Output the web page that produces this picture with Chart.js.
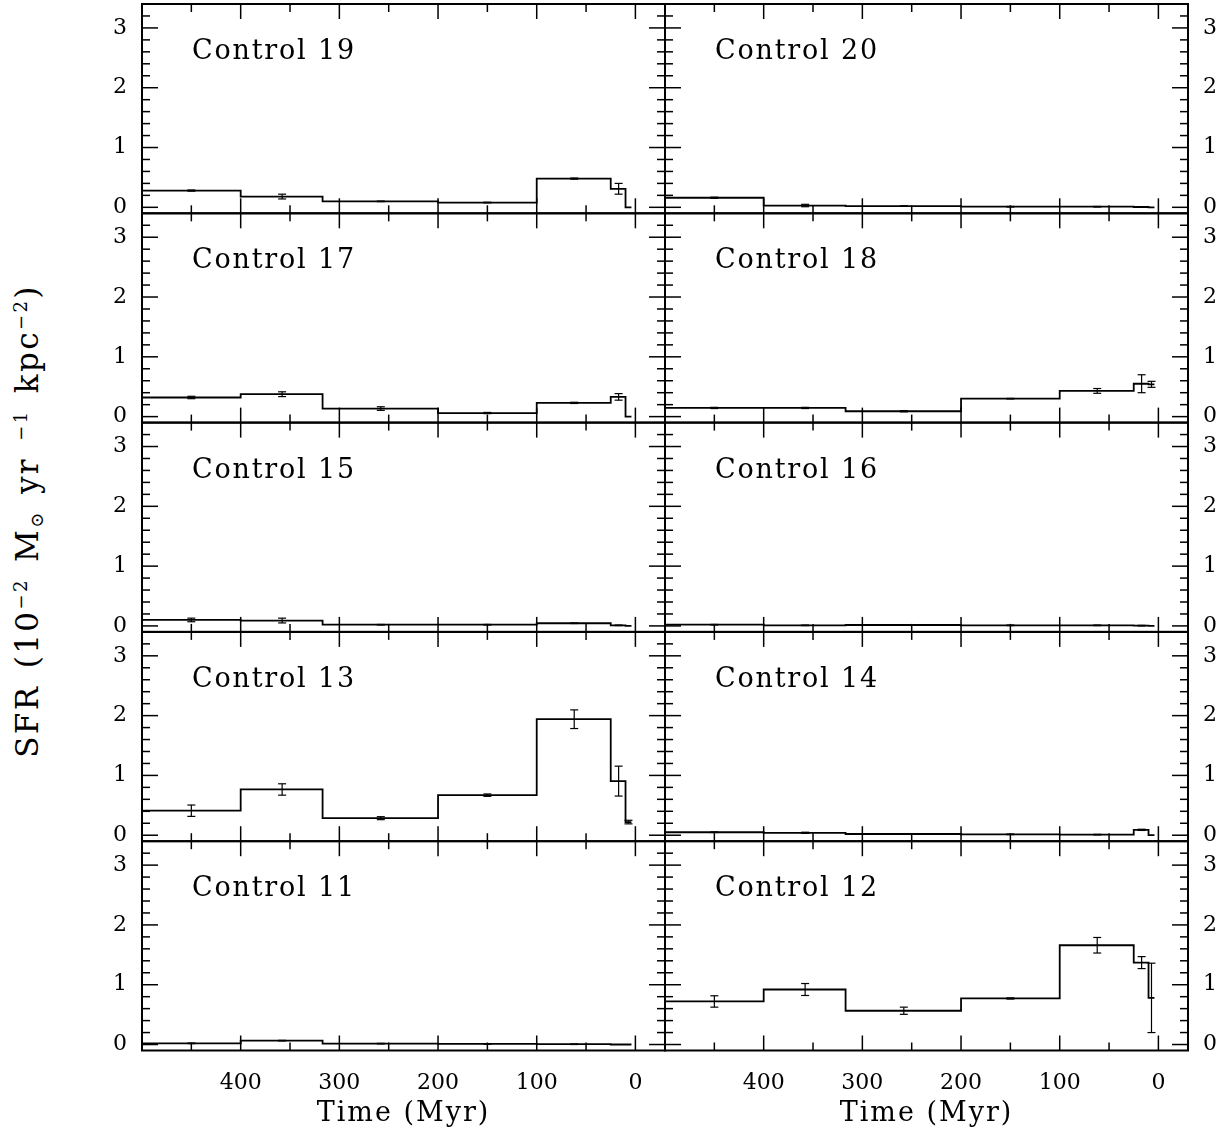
<!DOCTYPE html>
<html>
<head>
<meta charset="utf-8">
<script src="https://cdn.jsdelivr.net/npm/chart.js@4.4.1/dist/chart.umd.min.js"></script>
<style>
  body { margin: 0; background: #fff; }
  #page { position: relative; width: 1225px; height: 1134px; overflow: hidden; }
  #page canvas { position: absolute; left: 0; top: 0; }
  #ytitle {
    position: absolute; left: 27px; top: 521px;
    transform: translate(-50%, -50%) rotate(-90deg);
    white-space: nowrap; font: 31px "DejaVu Serif"; letter-spacing: 2.4px; word-spacing: 4px; line-height: 1; color: #000;
  }
  #ytitle sup { font-size: 58%; vertical-align: 0.6em; line-height: 0; }
  #ytitle sub { font-size: 58%; vertical-align: -0.3em; line-height: 0; }
</style>
</head>
<body>
<div id="page">
  <div id="ytitle">SFR (10<sup>−2</sup> M<sub>⊙</sub> yr <sup>−1</sup> kpc<sup>−2</sup>)</div>
</div>
<script>
// bins in Myr (lookback time), edges and centres
const binEdges = [500, 400, 317, 200, 100, 25, 10, 4];
const binCenters = [450, 358, 258, 150, 62, 17, 7];

const xMajorTicks = [400, 300, 200, 100, 0];
const xMinorTicks = [450, 350, 250, 150, 50];
const xTickLabels = ['400', '300', '200', '100', '0'];
const yMajorTicks = [0, 1, 2, 3];
const yMinorTicks = [0.2, 0.4, 0.6, 0.8, 1.2, 1.4, 1.6, 1.8, 2.2, 2.4, 2.6, 2.8, 3.2];
const yTickLabels = ['0', '1', '2', '3'];

const panelNames = ['Control 19', 'Control 20', 'Control 17', 'Control 18', 'Control 15',
                    'Control 16', 'Control 13', 'Control 14', 'Control 11', 'Control 12'];

// SFR per bin and its error (10^-2 Msun/yr/kpc^2)
const sfr19 = [0.28, 0.18, 0.10, 0.08, 0.48, 0.31, 0.0];
const err19 = [0.01, 0.04, 0.005, 0.005, 0.01, 0.09, 0.0];
const sfr20 = [0.16, 0.03, 0.02, 0.01, 0.01, 0.005, 0.0];
const err20 = [0.01, 0.02, 0.005, 0.005, 0.005, 0.005, 0.0];
const sfr17 = [0.32, 0.375, 0.135, 0.06, 0.23, 0.33, 0.0];
const err17 = [0.02, 0.04, 0.03, 0.01, 0.01, 0.055, 0.0];
const sfr18 = [0.145, 0.145, 0.09, 0.30, 0.43, 0.55, 0.54];
const err18 = [0.01, 0.01, 0.01, 0.005, 0.04, 0.15, 0.05];
const sfr15 = [0.10, 0.09, 0.02, 0.02, 0.045, 0.01, 0.0];
const err15 = [0.03, 0.04, 0.005, 0.005, 0.005, 0.005, 0.0];
const sfr16 = [0.02, 0.01, 0.015, 0.01, 0.01, 0.005, 0.0];
const err16 = [0.005, 0.005, 0.005, 0.005, 0.005, 0.005, 0.0];
const sfr13 = [0.41, 0.765, 0.285, 0.67, 1.94, 0.905, 0.22];
const err13 = [0.095, 0.095, 0.025, 0.02, 0.156, 0.25, 0.03];
const sfr14 = [0.05, 0.04, 0.02, 0.015, 0.01, 0.09, 0.0];
const err14 = [0.005, 0.01, 0.005, 0.005, 0.005, 0.01, 0.0];
const sfr11 = [0.02, 0.065, 0.015, 0.01, 0.005, 0.0, 0.0];
const err11 = [0.005, 0.005, 0.005, 0.005, 0.005, 0.0, 0.0];
const sfr12 = [0.72, 0.92, 0.565, 0.77, 1.66, 1.37, 0.78];
const err12 = [0.095, 0.10, 0.06, 0.01, 0.13, 0.10, 0.58];

const panelSfr = [sfr19, sfr20, sfr17, sfr18, sfr15, sfr16, sfr13, sfr14, sfr11, sfr12];
const panelErr = [err19, err20, err17, err18, err15, err16, err13, err14, err11, err12];

// page layout
const PAGE_W = 1225, PAGE_H = 1134;
const colLeft = [142, 665];
const plotW = 523;
const top0 = 4, plotH = 209.3;
const FONT = '"DejaVu Serif", serif';

function seg(ctx, x1, y1, x2, y2) {
  ctx.beginPath(); ctx.moveTo(x1, y1); ctx.lineTo(x2, y2); ctx.stroke();
}

const panelDecor = {
  id: 'panelDecor',
  afterDatasetsDraw(chart, args, opts) {
    const { ctx, chartArea: a } = chart;
    const x = chart.scales.x, y = chart.scales.y;
    const sfr = panelSfr[opts.idx], err = panelErr[opts.idx];
    ctx.save();
    ctx.strokeStyle = '#000';
    ctx.fillStyle = '#000';

    // error bars at bin centres
    ctx.lineWidth = 1.2;
    binCenters.forEach((c, i) => {
      if (err[i] <= 0) return;
      const px = x.getPixelForValue(c);
      const lo = y.getPixelForValue(sfr[i] - err[i]);
      const hi = y.getPixelForValue(sfr[i] + err[i]);
      seg(ctx, px, lo, px, hi);
      seg(ctx, px - 4, lo, px + 4, lo);
      seg(ctx, px - 4, hi, px + 4, hi);
    });

    // ticks on all four sides, pointing inwards
    ctx.lineWidth = 1.5;
    xMajorTicks.forEach(v => {
      const px = x.getPixelForValue(v);
      seg(ctx, px, a.bottom, px, a.bottom - 15);
      seg(ctx, px, a.top, px, a.top + 15);
    });
    xMinorTicks.forEach(v => {
      const px = x.getPixelForValue(v);
      seg(ctx, px, a.bottom, px, a.bottom - 8);
      seg(ctx, px, a.top, px, a.top + 8);
    });
    yMajorTicks.forEach(v => {
      const py = y.getPixelForValue(v);
      seg(ctx, a.left, py, a.left + 16, py);
      seg(ctx, a.right, py, a.right - 16, py);
    });
    yMinorTicks.forEach(v => {
      const py = y.getPixelForValue(v);
      seg(ctx, a.left, py, a.left + 8, py);
      seg(ctx, a.right, py, a.right - 8, py);
    });

    // frame
    ctx.lineWidth = 2;
    ctx.strokeRect(a.left, a.top, a.right - a.left, a.bottom - a.top);

    // y tick labels on the outer side
    ctx.font = '22px ' + FONT;
    ctx.textBaseline = 'middle';
    yMajorTicks.forEach((v, i) => {
      const py = y.getPixelForValue(v);
      if (opts.col === 0) {
        ctx.textAlign = 'right';
        ctx.fillText(yTickLabels[i], a.left - 15, py);
      } else {
        ctx.textAlign = 'left';
        ctx.fillText(yTickLabels[i], a.right + 15, py);
      }
    });

    // x tick labels and axis title on the bottom row only
    if (opts.row === 4) {
      ctx.font = '22px ' + FONT;
      ctx.textAlign = 'center';
      ctx.textBaseline = 'alphabetic';
      xMajorTicks.forEach((v, i) => {
        ctx.fillText(xTickLabels[i], x.getPixelForValue(v), a.bottom + 38);
      });
      ctx.font = '27px ' + FONT;
      ctx.letterSpacing = '2px';
      ctx.fillText('Time (Myr)', (a.left + a.right) / 2, a.bottom + 70);
      ctx.letterSpacing = '0px';
    }

    // panel name
    ctx.font = '27px ' + FONT;
    ctx.letterSpacing = '1.8px';
    ctx.textAlign = 'left';
    ctx.textBaseline = 'alphabetic';
    ctx.fillText(panelNames[opts.idx], a.left + 50, a.top + 55);
    ctx.restore();
  }
};

const page = document.getElementById('page');

panelNames.forEach((name, idx) => {
  const row = Math.floor(idx / 2), col = idx % 2;
  const left = colLeft[col];
  const top = top0 + row * plotH;
  const cv = document.createElement('canvas');
  cv.width = PAGE_W; cv.height = PAGE_H;
  page.appendChild(cv);

  const vals = panelSfr[idx];
  const steps = binEdges.map((e, i) => ({ x: e, y: vals[Math.min(i, vals.length - 1)] }));

  new Chart(cv.getContext('2d'), {
    type: 'scatter',
    data: {
      datasets: [{
        label: name,
        data: steps,
        showLine: true,
        stepped: true,
        borderColor: '#000',
        borderWidth: 1.8,
        pointRadius: 0,
        fill: false
      }]
    },
    options: {
      responsive: false,
      animation: false,
      devicePixelRatio: 1,
      events: [],
      layout: {
        padding: { left: left, top: top, right: PAGE_W - left - plotW, bottom: PAGE_H - top - plotH }
      },
      plugins: {
        legend: { display: false },
        tooltip: { enabled: false },
        panelDecor: { idx: idx, row: row, col: col }
      },
      scales: {
        x: { type: 'linear', reverse: true, min: -30, max: 500, display: false },
        y: { type: 'linear', min: -0.1, max: 3.4, display: false }
      }
    },
    plugins: [panelDecor]
  });
});
</script>
</body>
</html>
